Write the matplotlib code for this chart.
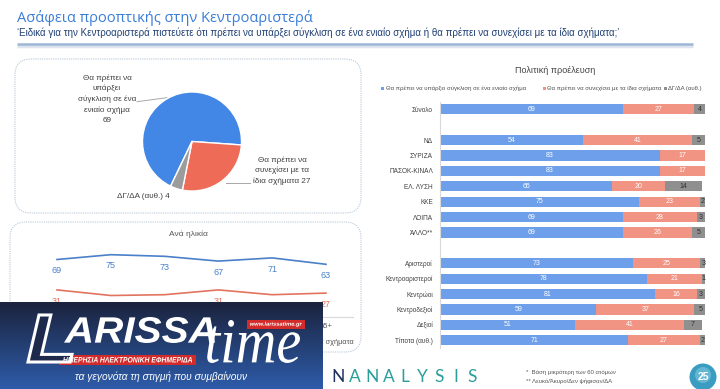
import matplotlib
matplotlib.use('Agg')
import numpy as np
import matplotlib.pyplot as plt
from matplotlib.patches import FancyBboxPatch, Rectangle, Circle, PathPatch
from matplotlib.textpath import TextPath
from matplotlib.font_manager import FontProperties
from matplotlib.transforms import Affine2D

plt.rcParams['font.family'] = ['Liberation Sans', 'DejaVu Sans']

W, H = 720, 389

title = 'Ασάφεια προοπτικής στην Κεντροαριστερά'
subtitle = ('‘Ειδικά για την Κεντροαριστερά πιστεύετε ότι πρέπει να υπάρξει σύγκλιση σε ένα '
            'ενιαίο σχήμα ή θα πρέπει να συνεχίσει με τα ίδια σχήματα;’')

series_names = ['Θα πρέπει να υπάρξει σύγκλιση σε ένα ενιαίο σχήμα',
                'Θα πρέπει να συνεχίσει με τα ίδια σχήματα',
                'ΔΓ/ΔΑ (αυθ.)']

# pie - total
pie_labels = ['Θα πρέπει να\nυπάρξει\nσύγκλιση σε ένα\nενιαίο σχήμα\n69',
              'Θα πρέπει να\nσυνεχίσει με τα\nίδια σχήματα 27',
              'ΔΓ/ΔΑ (αυθ.) 4']
pie_values = [69, 27, 4]

# by age
ages = ['17-24', '25-34', '35-44', '45-54', '55-64', '65+']
age_merge = [69, 75, 73, 67, 71, 63]
age_same = [31, 24, 25, 31, 25, 27]

# by political origin
total_group = ['Σύνολο']
total_vals = [[69], [27], [4]]
party_groups = ['ΝΔ', 'ΣΥΡΙΖΑ', 'ΠΑΣΟΚ-ΚΙΝΑΛ', 'ΕΛ. ΛΥΣΗ', 'ΚΚΕ', 'ΛΟΙΠΑ', 'ΆΛΛΟ**']
party_merge = [54, 83, 83, 65, 75, 69, 69]
party_same = [41, 17, 17, 20, 23, 28, 26]
party_dkna = [5, 0, 0, 14, 2, 3, 5]
ideo_groups = ['Αριστεροί', 'Κεντροαριστεροί', 'Κεντρώοι', 'Κεντροδεξιοί', 'Δεξιοί', 'Τίποτα (αυθ.)']
ideo_merge = [73, 78, 81, 59, 51, 71]
ideo_same = [25, 21, 16, 37, 41, 27]
ideo_dkna = [3, 1, 3, 5, 7, 2]

footnotes = ['*  Βάση μικρότερη των 60 ατόμων', '** Λευκό/Άκυρο/Δεν ψήφισαν/ΔΑ']

pie_colors = ['#4286e6', '#ee6b57', '#9c9c9c']
bar_colors = ['#6d9feb', '#f29483', '#8f8f8f']
line_colors = ['#4a80c8', '#e2735f']


def box(x0, y0, x1, y1):
    return [x0 / W, 1 - y1 / H, (x1 - x0) / W, (y1 - y0) / H]


def fit_text(ax, s, x0, y0, x1, y1, prop, fc, ec='none', lw=0, z=5):
    tp = TextPath((0, 0), s, size=20, prop=prop)
    bb = tp.get_extents()
    tr = (Affine2D().translate(-bb.x0, -bb.y0)
          .scale((x1 - x0) / bb.width, -(y1 - y0) / bb.height)
          .translate(x0, y1))
    ax.add_patch(PathPatch(tr.transform_path(tp), fc=fc, ec=ec, lw=lw, zorder=z))


fig = plt.figure(figsize=(7.2, 3.89), dpi=100)

bg = fig.add_axes([0, 0, 1, 1])
bg.set_xlim(0, W)
bg.set_ylim(H, 0)
bg.axis('off')

# header
bg.text(17, 17.5, title, fontsize=10.5, color='#3b7dd8', va='center', family=['Open Sans', 'DejaVu Sans'])
bg.text(17, 33, subtitle, fontsize=7.0, color='#1f3f73', va='center')
bg.plot([17, 693], [46, 46], color='#dde4ee', lw=2.5, solid_capstyle='butt')
bg.plot([17, 693], [44, 44], color='#9fb7d6', lw=1.8, solid_capstyle='butt')

# frames
for (x0, y0, x1, y1) in [(15, 59, 361, 213), (10, 222, 361, 352)]:
    bg.add_patch(FancyBboxPatch((x0, y0), x1 - x0, y1 - y0,
                                boxstyle='round,pad=0,rounding_size=16',
                                fc='none', ec='#b9c8d8', lw=0.8, ls=(0, (1, 1))))

# pie
r, cx, cy = 49.5, 192, 141.5
pa = fig.add_axes(box(cx - r, cy - r, cx + r, cy + r))
pa.pie(pie_values, colors=pie_colors, startangle=244.4, counterclock=False,
       wedgeprops=dict(edgecolor='white', linewidth=1))
pa.set_xlim(-1, 1)
pa.set_ylim(-1, 1)
pa.axis('off')

lbl = dict(fontsize=5.9, color='#404040', ha='center', va='center', linespacing=1.6)
bg.text(107, 99, pie_labels[0], **lbl)
bg.text(282, 170.7, pie_labels[1], **lbl)
bg.text(143, 196.7, pie_labels[2], **lbl)
bg.plot([137, 167], [101.7, 97.7], color='#a8a8a8', lw=0.7)
bg.plot([226, 250], [182.5, 182.5], color='#a8a8a8', lw=0.7)

# age lines
bg.text(188, 234, 'Ανά ηλικία', fontsize=6, color='#555555', ha='center', va='center')
lx = fig.add_axes(box(30.1, 240, 352.9, 317))
lx.set_facecolor('none')
xs = np.arange(len(ages))
for vals, col in [(age_merge, line_colors[0]), (age_same, line_colors[1])]:
    lx.plot(xs, vals, color=col, lw=1.2)
    for x, v in zip(xs, vals):
        lx.annotate(str(v), (x, v), xytext=(0, -8), textcoords='offset points',
                    ha='center', va='center', fontsize=6.5, color=col)
lx.set_xlim(-0.5, 5.5)
lx.set_ylim(-2.875, 93.375)
lx.set_yticks([])
lx.set_xticks(xs, ages)
lx.tick_params(axis='x', length=0, pad=4, labelsize=5.5, labelcolor='#555555')
for s in ['left', 'right', 'top']:
    lx.spines[s].set_visible(False)
lx.spines['bottom'].set_color('#d9d9d9')
bg.text(354, 342, '—  ' + series_names[1], fontsize=5.3, color='#555555', ha='right', va='center')

# political origin bars
bg.text(555, 70, 'Πολιτική προέλευση', fontsize=6.5, color='#444444', ha='center', va='center')
leg_x = [(381, 385.5), (542.5, 547), (664, 668.5)]
for (sx, tx), name, col in zip(leg_x, series_names, bar_colors):
    bg.add_patch(Rectangle((sx, 86.6), 3.4, 3.4, fc=col, ec='none'))
    bg.text(tx, 88.5, name, fontsize=4.3, color='#505050', va='center')

labels = total_group + party_groups + ideo_groups
merge = total_vals[0] + party_merge + ideo_merge
same = total_vals[1] + party_same + ideo_same
dkna = total_vals[2] + party_dkna + ideo_dkna
pos = ([0] + [2 + i for i in range(len(party_groups))]
       + [3 + len(party_groups) + i for i in range(len(ideo_groups))])

bx = fig.add_axes(box(440, 101.6, 705, 348))
bx.set_facecolor('none')
left = np.zeros(len(labels))
for vals, col, tcol in [(merge, bar_colors[0], 'white'), (same, bar_colors[1], 'white'),
                        (dkna, bar_colors[2], '#303030')]:
    vals = np.array(vals, dtype=float)
    bx.barh(pos, vals, left=left, height=0.66, color=col, edgecolor='none')
    for p, l, v in zip(pos, left, vals):
        if v > 0:
            bx.text(l + v / 2, p, str(int(v)), ha='center', va='center', fontsize=5, color=tcol)
    left += vals
bx.set_xlim(0, 100)
bx.set_ylim(pos[-1] + 0.5, -0.5)
bx.set_yticks(pos, labels)
bx.set_xticks([])
bx.tick_params(axis='y', length=0, pad=5, labelsize=4.7, labelcolor='#404040')
for s in ['right', 'top', 'bottom']:
    bx.spines[s].set_visible(False)
bx.spines['left'].set_color('#d9d9d9')

# footer
bg.text(526, 372.7, footnotes[0], fontsize=4.3, color='#555555', va='center')
bg.text(526, 381.7, footnotes[1], fontsize=4.3, color='#555555', va='center')
brand = 'NANALYSIS'
for i, ch in enumerate(brand):
    bg.text(338 + i * 16.8, 377, ch, fontsize=12.5, color='#1f2f5e' if i == 0 else '#2a9e9b',
            ha='center', va='center', family=['Lato', 'DejaVu Sans'])
bg.add_patch(Circle((703, 377), 13.5, fc='#3b9cc2', ec='none'))
bg.add_patch(Circle((703, 375), 8, fc='#8fd0e4', ec='none', alpha=0.5))
bg.text(703, 377.5, '25', fontsize=7.5, color='white', ha='center', va='center', fontweight='bold')

# newspaper logo on top
top = fig.add_axes([0, 0, 1, 1], zorder=10)
top.axis('off')
g = np.linspace(0, 1, 120)[:, None, None]
c0 = np.array([0x1b, 0x23, 0x3d]) / 255
c1 = np.array([0x2e, 0x5c, 0xaa]) / 255
top.imshow(c0 + (c1 - c0) * g, extent=(0, 323, 389, 302), aspect='auto', zorder=1)
bold_it = FontProperties(family='Liberation Sans', weight='bold', style='italic')
serif_it = FontProperties(family='Liberation Serif', style='italic')
fit_text(top, 'L', 28, 315, 72, 362, bold_it, fc='#1e2a4c', ec='white', lw=2.2)
fit_text(top, 'ARISSA', 64, 317, 215, 343, bold_it, fc='white')
fit_text(top, 'time', 207, 320, 300, 363, serif_it, fc='white')
top.add_patch(Rectangle((247, 320), 58, 8.5, fc='#d32a2a', ec='none', zorder=4))
fit_text(top, 'www.larissatime.gr', 250, 321.8, 302, 326.8, bold_it, fc='white')
top.add_patch(Rectangle((59, 355), 137, 9.5, fc='#d32a2a', ec='none', zorder=4))
fit_text(top, 'ΗΜΕΡΗΣΙΑ ΗΛΕΚΤΡΟΝΙΚΗ ΕΦΗΜΕΡΙΔΑ', 63, 357, 192, 362.5, bold_it, fc='white')
top.text(161, 377, 'τα γεγονότα τη στιγμή που συμβαίνουν', fontsize=7.3, color='white',
         style='italic', ha='center', va='center', zorder=5)
top.set_xlim(0, W)
top.set_ylim(H, 0)

fig.savefig('out.png', dpi=100)
